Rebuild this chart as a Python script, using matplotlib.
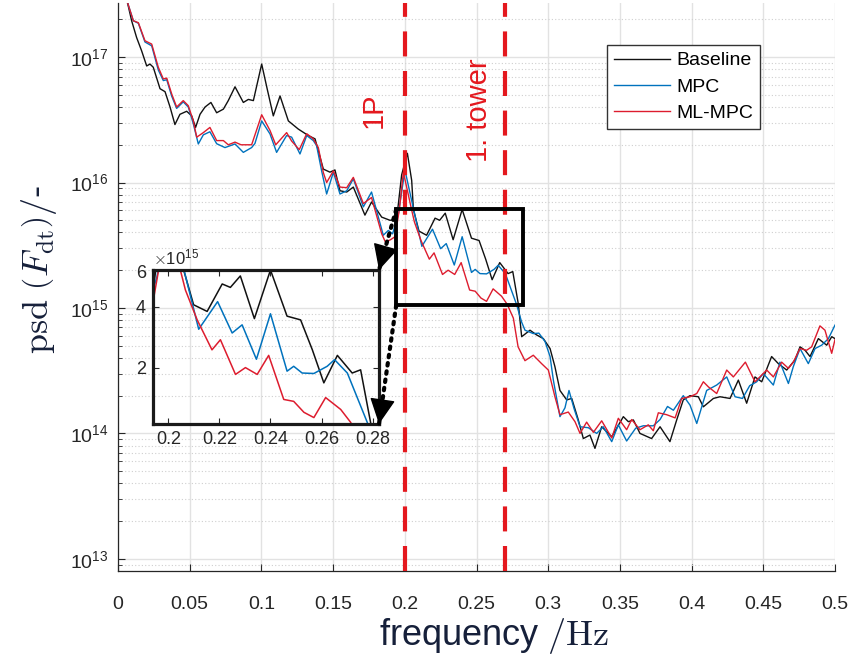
import matplotlib
matplotlib.use('Agg')
import matplotlib.pyplot as plt
from matplotlib.patches import Rectangle, FancyArrowPatch
from matplotlib.lines import Line2D
from matplotlib.ticker import FixedLocator, FixedFormatter, LogLocator, NullFormatter, NullLocator, LogFormatterMathtext

plt.rcParams['font.family'] = ['Liberation Sans', 'DejaVu Sans']
plt.rcParams['mathtext.fontset'] = 'cm'

# ---------------- data ----------------
freq_baseline = [0.004, 0.007, 0.0095, 0.013, 0.0165, 0.020, 0.0223, 0.0246, 0.0293, 0.0328,
                 0.0363, 0.0397, 0.0432, 0.0479, 0.0514, 0.0541, 0.0572, 0.0607, 0.0648, 0.0688,
                 0.0735, 0.0769, 0.0816, 0.0874, 0.0909, 0.0944, 0.1002, 0.104, 0.1083, 0.113,
                 0.1188, 0.1257, 0.1327, 0.1374, 0.1432, 0.1478, 0.1513, 0.1548, 0.1595, 0.1641,
                 0.1722, 0.1768, 0.1839, 0.1897, 0.1943, 0.1978, 0.2018, 0.2048, 0.206, 0.2099,
                 0.2152, 0.2211, 0.2243, 0.2282, 0.2337, 0.24, 0.2465, 0.2518, 0.2564, 0.2609,
                 0.2662, 0.272, 0.2753, 0.2792, 0.2815, 0.2873, 0.2919, 0.2966, 0.3013, 0.3047,
                 0.3082, 0.3129, 0.3164, 0.321, 0.3245, 0.3291, 0.3326, 0.3373, 0.3443, 0.3524,
                 0.3559, 0.3594, 0.364, 0.3721, 0.378, 0.3849, 0.3896, 0.3942, 0.3989, 0.4047,
                 0.4082, 0.4152, 0.4198, 0.4268, 0.4326, 0.4384, 0.4442, 0.4489, 0.4558, 0.4605,
                 0.4663, 0.4721, 0.4756, 0.4791, 0.4826, 0.4884, 0.4942, 0.4977, 0.5]
psd_baseline = [3.5e17, 2.6e17, 1.95e17, 1.43e17, 1.12e17, 8.5e16, 8.8e16, 8.3e16, 5.6e16, 5.3e16,
                4.0e16, 2.9e16, 3.5e16, 3.7e16, 3.4e16, 2.75e16, 3.5e16, 4.0e16, 4.35e16, 3.6e16,
                3.85e16, 4.5e16, 5.8e16, 4.35e16, 4.6e16, 4.5e16, 8.8e16, 5.6e16, 3.4e16, 4.9e16,
                3.1e16, 2.67e16, 2.37e16, 2.23e16, 1.28e16, 1.21e16, 1.26e16, 8.6e15, 8.4e15, 9.2e15,
                5.5e15, 7.0e15, 5.3e15, 5.0e15, 5.1e15, 1.15e16, 1.71e16, 1.04e16, 6.1e15, 4.1e15,
                3.8e15, 5.2e15, 5.0e15, 5.7e15, 3.5e15, 6.1e15, 3.6e15, 3.45e15, 2.45e15, 1.68e15,
                2.3e15, 1.88e15, 1.95e15, 1.07e15, 5.9e14, 6.65e14, 6.1e14, 5.7e14, 4.75e14, 3.4e14,
                2.2e14, 1.85e14, 1.9e14, 1.28e14, 9.1e13, 9.7e13, 7.6e13, 1.13e14, 9.4e13, 1.36e14,
                1.24e14, 1.28e14, 1.0e14, 9.1e13, 1.13e14, 8.6e13, 1.28e14, 1.85e14, 2.0e14, 1.96e14,
                1.63e14, 1.9e14, 1.96e14, 1.9e14, 2.66e14, 1.74e14, 2.82e14, 2.58e14, 4.1e14, 3.6e14,
                3.2e14, 3.85e14, 4.9e14, 4.6e14, 4.1e14, 5.7e14, 5.05e14, 5.9e14, 5.7e14]

freq_mpc = [0.004, 0.0072, 0.0107, 0.0142, 0.0188, 0.0235, 0.0281, 0.0316, 0.034, 0.0374,
            0.0409, 0.0455, 0.049, 0.0525, 0.056, 0.0595, 0.0641, 0.0688, 0.0746, 0.0816,
            0.0874, 0.0932, 0.0955, 0.1002, 0.106, 0.1106, 0.1176, 0.1211, 0.1269, 0.1316,
            0.1362, 0.1385, 0.142, 0.1455, 0.1502, 0.1548, 0.1595, 0.1641, 0.1711, 0.1768,
            0.185, 0.1885, 0.1915, 0.1955, 0.2001, 0.206, 0.2119, 0.2193, 0.225, 0.2289,
            0.2345, 0.24, 0.2465, 0.2491, 0.2524, 0.257, 0.2622, 0.2651, 0.2701, 0.2779,
            0.2815, 0.2838, 0.2896, 0.2935, 0.2978, 0.3013, 0.3036, 0.3082, 0.3117, 0.3145,
            0.318, 0.3222, 0.328, 0.3338, 0.3384, 0.3443, 0.3489, 0.3547, 0.361, 0.3663,
            0.3733, 0.378, 0.3832, 0.3873, 0.3942, 0.3989, 0.4036, 0.4105, 0.4175, 0.4245,
            0.4303, 0.4355, 0.4405, 0.4454, 0.45, 0.457, 0.4616, 0.4675, 0.4709, 0.4756,
            0.4814, 0.4861, 0.4907, 0.4954, 0.5]
psd_mpc = [3.5e17, 2.6e17, 1.95e17, 1.86e17, 1.32e17, 1.23e17, 7.9e16, 6.5e16, 6.6e16, 4.9e16,
           3.9e16, 4.4e16, 4.0e16, 2.95e16, 2.03e16, 2.4e16, 2.54e16, 2.04e16, 1.9e16, 2.03e16,
           1.74e16, 1.9e16, 2.05e16, 3.1e16, 2.44e16, 1.74e16, 2.37e16, 2.3e16, 1.69e16, 2.37e16,
           2.16e16, 1.97e16, 1.24e16, 8.1e15, 1.21e16, 8.1e15, 8.6e15, 1.07e16, 6.4e15, 8.4e15,
           3.8e15, 4.15e15, 3.9e15, 5.6e15, 1.26e16, 6.2e15, 3.1e15, 4.25e15, 2.97e15, 3.26e15,
           2.2e15, 3.7e15, 1.92e15, 2.03e15, 1.88e15, 1.87e15, 2.03e15, 2.19e15, 1.88e15, 1.07e15,
           7.7e14, 6.65e14, 6.25e14, 6.3e14, 5.4e14, 4.1e14, 2.66e14, 1.36e14, 1.6e14, 2.2e14,
           1.58e14, 1.13e14, 1.11e14, 1.0e14, 1.13e14, 8.6e13, 1.17e14, 8.7e13, 1.1e14, 1.15e14,
           1.15e14, 1.29e14, 1.64e14, 1.53e14, 2.0e14, 1.68e14, 1.2e14, 2.2e14, 2.43e14, 2.82e14,
           1.96e14, 1.9e14, 2.4e14, 2.58e14, 3.0e14, 2.43e14, 3.7e14, 2.5e14, 3.4e14, 4.75e14,
           3.6e14, 4.75e14, 5.05e14, 5.7e14, 7.3e14]

freq_mlmpc = [0.004, 0.0072, 0.0107, 0.0142, 0.0188, 0.0235, 0.0281, 0.0316, 0.034, 0.0374,
              0.0409, 0.0455, 0.049, 0.0525, 0.0549, 0.0595, 0.0641, 0.0688, 0.0735, 0.0769,
              0.0816, 0.0858, 0.0897, 0.0932, 0.1002, 0.106, 0.110, 0.1176, 0.1211, 0.1264,
              0.1316, 0.1362, 0.1397, 0.1432, 0.1455, 0.1502, 0.1548, 0.1595, 0.1641, 0.1711,
              0.1768, 0.1839, 0.1865, 0.190, 0.1932, 0.1962, 0.199, 0.2047, 0.2067, 0.2113,
              0.2171, 0.2204, 0.2263, 0.2302, 0.2348, 0.2393, 0.2452, 0.2491, 0.2531, 0.257,
              0.2616, 0.2675, 0.2714, 0.2757, 0.279, 0.2838, 0.2896, 0.2954, 0.3001, 0.3047,
              0.3082, 0.314, 0.3187, 0.3222, 0.3268, 0.3315, 0.3373, 0.3443, 0.3489, 0.3547,
              0.3582, 0.364, 0.3698, 0.3733, 0.3768, 0.3826, 0.3885, 0.3931, 0.3989, 0.4036,
              0.4082, 0.4117, 0.4175, 0.4245, 0.4291, 0.4375, 0.4442, 0.4489, 0.4524, 0.457,
              0.4628, 0.4675, 0.4709, 0.4756, 0.4802, 0.4837, 0.4895, 0.493, 0.4977, 0.5]
psd_mlmpc = [3.5e17, 2.6e17, 1.95e17, 1.88e17, 1.35e17, 1.27e17, 8.3e16, 6.7e16, 6.8e16, 5.1e16,
             4.0e16, 4.5e16, 4.1e16, 3.1e16, 2.3e16, 2.5e16, 2.75e16, 2.16e16, 2.16e16, 2.0e16,
             2.1e16, 2.0e16, 2.0e16, 2.0e16, 3.47e16, 2.6e16, 2.0e16, 2.5e16, 2.14e16, 1.83e16,
             2.45e16, 2.23e16, 1.9e16, 1.2e16, 1.0e16, 1.24e16, 9.2e15, 9.1e15, 1.1e16, 6.8e15,
             7.6e15, 3.9e15, 3.35e15, 3.5e15, 3.7e15, 6.1e15, 1.21e16, 6.1e15, 4.85e15, 3.45e15,
             2.45e15, 2.75e15, 1.85e15, 2.0e15, 1.85e15, 2.3e15, 1.39e15, 1.36e15, 1.2e15, 1.13e15,
             1.42e15, 1.24e15, 1.07e15, 8.3e14, 4.9e14, 3.8e14, 4.2e14, 3.6e14, 3.2e14, 1.96e14,
             1.41e14, 1.48e14, 1.24e14, 1.0e14, 1.23e14, 1.02e14, 1.26e14, 9.2e13, 1.32e14, 1.07e14,
             1.29e14, 1.07e14, 1.17e14, 1.05e14, 1.46e14, 1.41e14, 1.33e14, 1.9e14, 1.96e14, 2.08e14,
             2.58e14, 2.35e14, 2.08e14, 3.2e14, 2.82e14, 3.7e14, 2.58e14, 2.92e14, 3.2e14, 2.82e14,
             3.7e14, 3.3e14, 3.7e14, 4.75e14, 4.6e14, 4.9e14, 7.2e14, 6.65e14, 4.35e14, 5.6e14]

series_labels = ['Baseline', 'MPC', 'ML-MPC']
marker_freqs = [0.2, 0.27]
marker_labels = ['1P', '1. tower']
marker_label_x = [0.178, 0.2517]
marker_label_y = [3.74e16, 3.74e16]
zoom_x = [0.194, 0.2825]
zoom_y = [1.05e15, 6.1e15]
xticks = [0, 0.05, 0.1, 0.15, 0.2, 0.25, 0.3, 0.35, 0.4, 0.45, 0.5]
xtick_labels = ['0', '0.05', '0.1', '0.15', '0.2', '0.25', '0.3', '0.35', '0.4', '0.45', '0.5']
inset_xticks = [0.2, 0.22, 0.24, 0.26, 0.28]
inset_xtick_labels = ['0.2', '0.22', '0.24', '0.26', '0.28']
inset_yticks = [2e15, 4e15, 6e15]
inset_ytick_labels = ['2', '4', '6']

# ---------------- styling ----------------
c_base = '#111111'
c_mpc = '#0072BD'
c_ml = '#DD1C2E'
c_mark = '#E4181E'
txt_col = '#262626'
lab_col = '#16203a'

W, H = 860, 658
fig = plt.figure(figsize=(W / 100, H / 100), dpi=100)
ax = fig.add_axes([118 / W, 1 - 571 / H, (835 - 118) / W, (571 - 3) / H])

series = [(freq_baseline, psd_baseline, c_base), (freq_mpc, psd_mpc, c_mpc), (freq_mlmpc, psd_mlmpc, c_ml)]
for (f, p, c), lab in zip(series, series_labels):
    ax.plot(f, p, color=c, lw=1.0, label=lab, zorder=3, solid_joinstyle='round')

ax.set_yscale('log')
ax.set_xlim(0, 0.5)
ax.set_ylim(8.0e12, 2.7e17)
ax.xaxis.set_major_locator(FixedLocator(xticks))
ax.xaxis.set_major_formatter(FixedFormatter(xtick_labels))
ax.yaxis.set_major_locator(LogLocator(base=10, numticks=20))
ax.yaxis.set_major_formatter(LogFormatterMathtext())
ax.yaxis.set_minor_locator(LogLocator(base=10, subs=[2, 3, 4, 5, 6, 7, 8, 9], numticks=50))
ax.yaxis.set_minor_formatter(NullFormatter())
ax.tick_params(which='both', direction='in', colors=txt_col, labelsize=14, top=False, right=False)
ax.tick_params(which='major', length=5, width=0.8, pad=7)
ax.tick_params(which='minor', length=3, width=0.6)
ax.tick_params(axis='x', which='major', pad=18)
for s in ['top', 'right']:
    ax.spines[s].set_visible(False)
for s in ['left', 'bottom']:
    ax.spines[s].set_color(txt_col)
    ax.spines[s].set_linewidth(0.9)
ax.grid(True, which='major', color='#e2e2e2', lw=1.0, ls='-', zorder=0)
ax.grid(True, which='minor', axis='y', color='#cfcfcf', lw=0.8, ls=(0, (1, 2)), zorder=0)
ax.set_axisbelow(True)

# resonance lines
for fx in marker_freqs:
    ax.axvline(fx, color=c_mark, lw=3, ls=(0, (6, 3.5)), zorder=4)
for x, y, t, fs in zip(marker_label_x, marker_label_y, marker_labels, [21, 21]):
    ax.text(x, y, t, color=c_mark, fontsize=fs, rotation=90, ha='center', va='center', zorder=5)

# zoom rectangle
ax.add_patch(Rectangle((zoom_x[0], zoom_y[0]), zoom_x[1] - zoom_x[0], zoom_y[1] - zoom_y[0],
                       fill=False, ec='black', lw=2.8, zorder=6))

ax.set_xlabel(r'frequency $/\mathrm{Hz}$', fontsize=26, color=lab_col, labelpad=2, x=0.525)
ax.set_ylabel(r'$\mathrm{psd}\ \left(F_{\mathrm{dt}}\right)/$-', fontsize=26, color=lab_col,
              labelpad=8, y=0.53)

leg = ax.legend(loc='upper right', bbox_to_anchor=(0.895, 0.926), fontsize=14, frameon=True,
                fancybox=False, edgecolor='#333333', framealpha=1, handlelength=2.9,
                labelspacing=0.45, handletextpad=0.3, borderpad=0.35, borderaxespad=0)
leg.get_frame().set_linewidth(1.0)
for t in leg.get_texts():
    t.set_color('black')

# inset
axi = fig.add_axes([153 / W, 1 - 424 / H, (379 - 153) / W, (424 - 270) / H], facecolor='none')
for f, p, c in series:
    axi.plot(f, p, color=c, lw=1.1, solid_joinstyle='round')
axi.set_yscale('log')
axi.set_xlim(*zoom_x)
axi.set_ylim(*zoom_y)
axi.xaxis.set_major_locator(FixedLocator(inset_xticks))
axi.xaxis.set_major_formatter(FixedFormatter(inset_xtick_labels))
axi.yaxis.set_major_locator(FixedLocator(inset_yticks))
axi.yaxis.set_major_formatter(FixedFormatter(inset_ytick_labels))
axi.yaxis.set_minor_locator(NullLocator())
axi.yaxis.set_minor_formatter(NullFormatter())
axi.tick_params(which='both', direction='in', top=True, right=True, colors=txt_col, labelsize=13,
                length=4, width=0.8, pad=5)
for s in axi.spines.values():
    s.set_linewidth(2.3)
    s.set_color('#1a1a1a')
axi.text(0.0, 1.02, r'$\times\mathdefault{10^{15}}$', transform=axi.transAxes, fontsize=12,
         color=txt_col, ha='left', va='bottom')

# connector arrows (dotted line + solid head)
inv = fig.transFigure.inverted()
pairs = [((zoom_x[0], zoom_y[1]), (1, 1)), ((zoom_x[0], zoom_y[0]), (1, 0))]
for dpt, apt in pairs:
    p0 = ax.transData.transform(dpt)
    p1 = axi.transAxes.transform(apt)
    a = inv.transform(p0)
    b = inv.transform(p1)
    fig.add_artist(Line2D([a[0], b[0]], [a[1], b[1]], transform=fig.transFigure, color='black',
                          lw=3, ls=(0, (0.6, 1.4)), dash_capstyle='round', zorder=10))
    hp = p1 - 0.02 * (p1 - p0)
    h = inv.transform(hp)
    fig.add_artist(FancyArrowPatch(tuple(h), tuple(b), transform=fig.transFigure,
                                   arrowstyle='-|>,head_length=0.9,head_width=0.45',
                                   mutation_scale=18, color='black', lw=1, zorder=11))

fig.savefig('out.png', dpi=100)
